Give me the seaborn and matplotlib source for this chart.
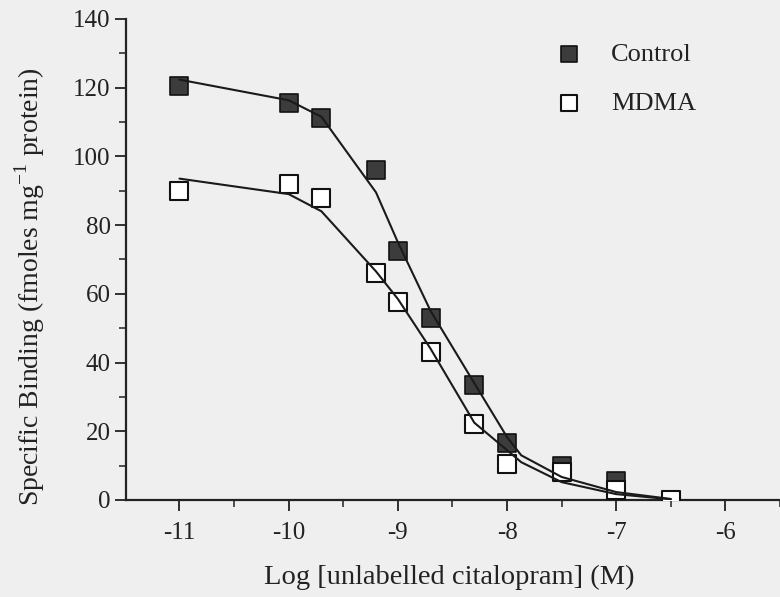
import numpy as np
import pandas as pd
import matplotlib
matplotlib.use('Agg')
import matplotlib.pyplot as plt
import seaborn as sns
from matplotlib.ticker import MultipleLocator

# measured points
log_conc = [-11, -10, -9.7, -9.2, -9, -8.7, -8.3, -8, -7.5, -7]
control = [120.5, 115.5, 111, 96, 72.5, 53, 33.5, 16.5, 10, 5.5]
log_conc_mdma = [-11, -10, -9.7, -9.2, -9, -8.7, -8.3, -8, -7.5, -7, -6.5]
mdma = [90, 92, 88, 66, 57.5, 43, 22, 10.5, 8, 3, 0]

# fitted curves
fit_x_ctrl = [-11, -10, -9.7, -9.2, -9, -8.7, -8.3, -8, -7.87, -7.5, -7, -6.5]
fit_ctrl = [122.3, 116.3, 111.5, 89.5, 75, 55, 34, 18.3, 13, 6.7, 2.3, 0.3]
fit_x_mdma = [-11, -10, -9.7, -9.2, -9, -8.7, -8.3, -8, -7.87, -7.5, -7, -6.5]
fit_mdma = [93.5, 89, 84, 66.5, 58.5, 44, 22.5, 14.5, 11, 5.2, 1.7, 0.2]

bg = '#efefef'
ink = '#222222'
sns.set_style('ticks')
plt.rcParams['font.family'] = ['Liberation Serif', 'DejaVu Serif']
plt.rcParams['axes.unicode_minus'] = False

fig = plt.figure(figsize=(7.8, 5.97), dpi=100, facecolor=bg)
ax = fig.add_axes([0.1615, 0.1625, 0.8385, 0.806])
ax.set_facecolor(bg)

sns.lineplot(x=fit_x_ctrl, y=fit_ctrl, color='#1a1a1a', lw=1.5, ax=ax, zorder=4)
sns.lineplot(x=fit_x_mdma, y=fit_mdma, color='#1a1a1a', lw=1.5, ax=ax, zorder=4)
sns.scatterplot(x=log_conc, y=control, marker='s', s=150, color='#3c3c3c',
                edgecolor='#111111', linewidth=1.2, ax=ax, zorder=2, label='Control')
sns.scatterplot(x=log_conc_mdma, y=mdma, marker='s', s=150, color='white',
                edgecolor='#111111', linewidth=1.5, ax=ax, zorder=3, label='MDMA')

ax.set_xlim(-11.49, -5.5)
ax.set_ylim(0, 140)
ax.set_xticks([-11, -10, -9, -8, -7, -6])
ax.set_yticks(range(0, 141, 20))
ax.xaxis.set_minor_locator(MultipleLocator(0.5))
ax.yaxis.set_minor_locator(MultipleLocator(10))
ax.tick_params(which='major', length=8, width=1.3, labelsize=18, color=ink, labelcolor=ink)
ax.tick_params(which='minor', length=5, width=1.1, color=ink)
ax.tick_params(axis='x', pad=8)
ax.tick_params(axis='y', pad=3)
for s in ['top', 'right']:
    ax.spines[s].set_visible(False)
for s in ['left', 'bottom']:
    ax.spines[s].set_linewidth(1.6)
    ax.spines[s].set_color(ink)

ax.set_xlabel('Log [unlabelled citalopram] (M)', fontsize=20.5, color=ink)
ax.set_ylabel('Specific Binding (fmoles mg$^{\\mathregular{-1}}$ protein)', fontsize=20,
              color=ink)
ax.xaxis.set_label_coords(0.495, -0.135)
ax.yaxis.set_label_coords(-0.12, 0.443)

leg = ax.legend(loc='upper left', bbox_to_anchor=(0.6, 1.0), frameon=False,
                fontsize=19, handletextpad=0.6, labelspacing=0.95, markerscale=0.9)
for t in leg.get_texts():
    t.set_color(ink)

fig.savefig('out.png', dpi=100, facecolor=bg)
